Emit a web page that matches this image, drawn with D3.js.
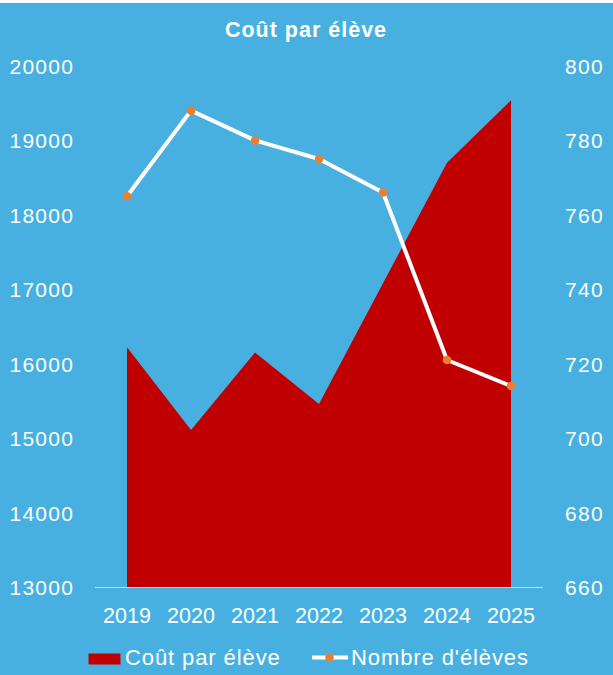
<!DOCTYPE html>
<html>
<head>
<meta charset="utf-8">
<script src="https://cdn.jsdelivr.net/npm/d3@7"></script>
<style>
  html, body { margin: 0; padding: 0; background: #ffffff; }
  svg { display: block; }
  text { font-family: "Liberation Sans", Arial, sans-serif; fill: #ffffff; }
</style>
</head>
<body>
<script>
const years = ["2019", "2020", "2021", "2022", "2023", "2024", "2025"];
const coutParEleve = [16220, 15110, 16150, 15460, 17080, 18700, 19540];
const nombreEleves = [765, 788, 780, 775, 766, 721, 714];
const leftTicks = [13000, 14000, 15000, 16000, 17000, 18000, 19000, 20000];
const rightTicks = [660, 680, 700, 720, 740, 760, 780, 800];
const title = "Coût par élève";
const seriesNames = ["Coût par élève", "Nombre d'élèves"];

const W = 613, H = 675;
const bg = "#47B0E0", red = "#C00000", orange = "#ED7D31";

const svg = d3.select("body").append("svg").attr("width", W).attr("height", H);
svg.append("rect").attr("x", 0).attr("y", 3).attr("width", W).attr("height", H - 3).attr("fill", bg);

const x = d3.scaleBand().domain(years).range([95, 543]).padding(0);
const yL = d3.scaleLinear().domain([13000, 20000]).range([587, 66]);
const yR = d3.scaleLinear().domain([660, 800]).range([587, 66]);
const cx = d => x(d) + x.bandwidth() / 2;

// title
svg.append("text").attr("x", 306).attr("y", 37).attr("text-anchor", "middle")
  .style("font-weight", "bold").style("font-size", "21.5px").style("letter-spacing", "1px")
  .text(title);

// area
const area = d3.area().x((d, i) => cx(years[i])).y0(yL(13000)).y1(d => yL(d));
svg.append("path").datum(coutParEleve).attr("d", area).attr("fill", red);

// axis line
svg.append("line").attr("x1", 95).attr("x2", 543).attr("y1", 587.5).attr("y2", 587.5)
  .attr("stroke", "#c8dcea").attr("stroke-width", 1.2);

// left axis
const axL = svg.append("g").attr("transform", "translate(73,0)")
  .call(d3.axisLeft(yL).tickValues(leftTicks).tickSize(0).tickPadding(0).tickFormat(d3.format("d")));
axL.select(".domain").remove();
axL.selectAll("text").style("font-size", "21px").style("letter-spacing", "1.3px")
  .attr("dy", "0.36em").attr("x", 1.3);

// right axis
const axR = svg.append("g").attr("transform", "translate(565,0)")
  .call(d3.axisRight(yR).tickValues(rightTicks).tickSize(0).tickPadding(0).tickFormat(d3.format("d")));
axR.select(".domain").remove();
axR.selectAll("text").style("font-size", "21px").style("letter-spacing", "1.3px")
  .attr("dy", "0.36em").attr("x", 0);

// bottom axis
const axB = svg.append("g").attr("transform", "translate(0,587)")
  .call(d3.axisBottom(x).tickSize(0).tickPadding(0));
axB.select(".domain").remove();
axB.selectAll("text").style("font-size", "21.5px").attr("dy", 0).attr("y", 36);

// line
const line = d3.line().x((d, i) => cx(years[i])).y(d => yR(d));
svg.append("path").datum(nombreEleves).attr("d", line).attr("fill", "none")
  .attr("stroke", "#ffffff").attr("stroke-width", 4).attr("stroke-linejoin", "round");
svg.selectAll("circle.m").data(nombreEleves).enter().append("circle")
  .attr("cx", (d, i) => cx(years[i])).attr("cy", d => yR(d)).attr("r", 4.3).attr("fill", orange);

// legend
const lg = svg.append("g");
lg.append("rect").attr("x", 88.5).attr("y", 653.5).attr("width", 32).attr("height", 11).attr("fill", red);
lg.append("text").attr("x", 125).attr("y", 665).style("font-size", "22px").style("letter-spacing", "0.9px").text(seriesNames[0]);
lg.append("line").attr("x1", 312).attr("x2", 348).attr("y1", 657.5).attr("y2", 657.5)
  .attr("stroke", "#ffffff").attr("stroke-width", 4);
lg.append("circle").attr("cx", 329.5).attr("cy", 657.5).attr("r", 4.3).attr("fill", orange);
lg.append("text").attr("x", 351).attr("y", 665).style("font-size", "22px").style("letter-spacing", "0.9px").text(seriesNames[1]);
</script>
</body>
</html>
